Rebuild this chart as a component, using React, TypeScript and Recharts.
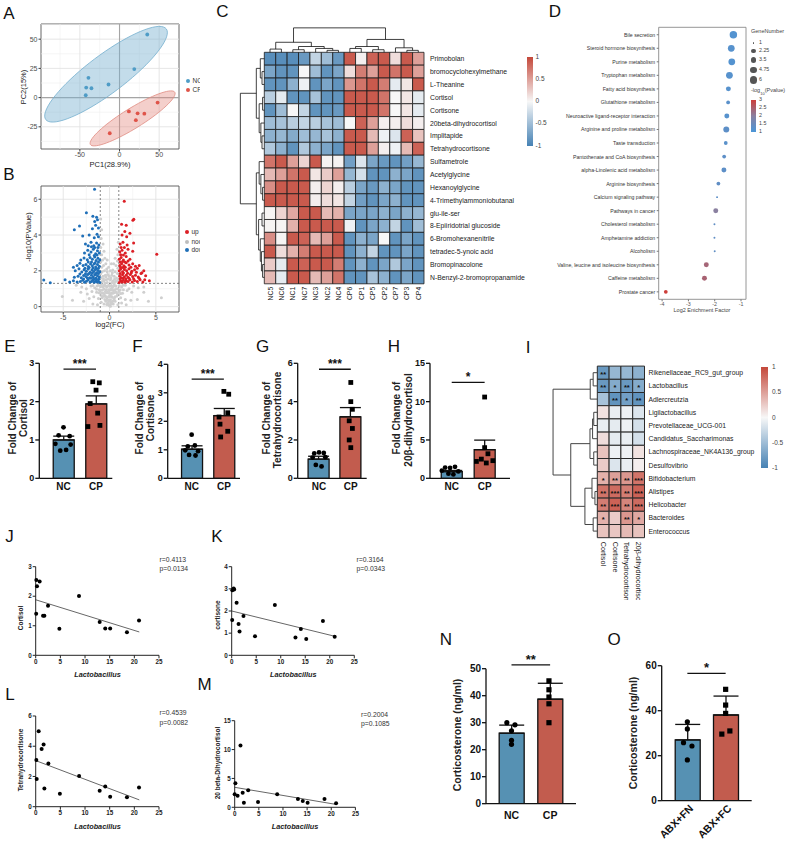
import React from "react";
import {
  ScatterChart,
  Scatter,
  ComposedChart,
  Bar,
  Cell,
  ErrorBar,
  XAxis,
  YAxis,
  ZAxis,
  ReferenceLine,
  ReferenceArea,
  ReferenceDot,
} from "recharts";

const FONT = "'Liberation Sans', Arial, Helvetica, sans-serif";
const BAR_BLUE = "#5691b3";
const BAR_RED = "#c25c4e";

// ---------- A: PCA ----------
const pcaNC = [[35, 54], [18.6, 24.4], [-39.2, 16.9], [-42, 8.6], [-35.4, 8], [-13.9, 11.2], [-42.6, 2]];
const pcaCP = [[48, -4.3], [11.8, -11.8], [22.8, -13.5], [31.3, -13.8], [20.6, -19.3], [-12.3, -30.5]];
// centre plus the two semi-axis vectors of each confidence ellipse (PC units)
const ellipseNC = { c: [-17, 20], a: [76, 38.8], b: [14.4, -13.1] };
const ellipseCP = { c: [16.5, -17.8], a: [53.2, 22.4], b: [6.7, -7.3] };

// ---------- B: volcano ----------
const volcanoDown = [
  [-1.05, 1.35], [-1.2, 1.42], [-1.35, 1.38], [-1.5, 1.45], [-1.65, 1.36], [-1.8, 1.48], [-1.95, 1.4], [-2.1, 1.37], [-2.3, 1.5], [-2.5, 1.42], [-2.7, 1.36], [-2.9, 1.47], [-3.15, 1.4], [-3.5, 1.38], [-3.9, 1.45], [-4.3, 1.37], [-4.8, 1.5], [-7.1, 1.49], [-6.4, 1.34],
  [-1.1, 1.65], [-1.3, 1.72], [-1.45, 1.6], [-1.6, 1.78], [-1.75, 1.66], [-1.95, 1.75], [-2.15, 1.62], [-2.35, 1.8], [-2.55, 1.68], [-2.8, 1.74], [-3.05, 1.62], [-3.4, 1.7], [-3.8, 1.64],
  [-1.05, 1.95], [-1.25, 2.02], [-1.4, 1.9], [-1.55, 2.08], [-1.7, 1.96], [-1.9, 2.05], [-2.1, 1.92], [-2.3, 2.1], [-2.5, 1.98], [-2.75, 2.06], [-3.0, 1.94], [-3.3, 2.12], [-3.7, 2.0],
  [-1.1, 2.25], [-1.3, 2.35], [-1.5, 2.22], [-1.65, 2.4], [-1.85, 2.28], [-2.05, 2.38], [-2.3, 2.24], [-2.55, 2.36], [-2.85, 2.3], [-3.2, 2.42], [-3.9, 2.2],
  [-1.05, 2.6], [-1.25, 2.7], [-1.45, 2.58], [-1.6, 2.78], [-1.85, 2.65], [-2.1, 2.75], [-2.4, 2.62], [-2.75, 2.72], [-3.1, 2.6],
  [-1.1, 3.0], [-1.3, 3.12], [-1.5, 2.95], [-1.75, 3.2], [-2.0, 3.05], [-2.35, 3.15], [-2.7, 3.0],
  [-1.15, 3.45], [-1.4, 3.55], [-1.7, 3.4], [-2.0, 3.6], [-2.6, 3.5],
  [-1.2, 3.9], [-1.35, 4.05], [-1.65, 3.85], [-2.2, 4.0], [-2.9, 3.95],
  [-1.2, 4.4], [-1.5, 4.55], [-1.85, 4.35], [-3.24, 4.5], [-3.8, 4.3],
  [-1.3, 4.85], [-1.6, 4.75], [-1.8, 5.05], [-1.4, 5.0], [-2.5, 5.24], [-1.62, 6.56],
  [-1.15, 1.55], [-1.4, 1.52], [-1.7, 1.56], [-2.0, 1.58], [-2.4, 1.6], [-2.8, 1.55],
  [-1.2, 1.85], [-1.5, 1.82], [-1.85, 1.88], [-2.2, 1.85], [-2.6, 1.84], [-3.2, 1.82],
  [-1.2, 2.15], [-1.45, 2.12], [-1.8, 2.16], [-2.2, 2.18], [-2.65, 2.15], [-3.5, 2.3],
  [-1.2, 2.5], [-1.55, 2.45], [-1.95, 2.5], [-2.3, 2.5], [-1.35, 2.88], [-1.65, 2.85], [-2.2, 2.9], [-1.25, 3.3], [-1.6, 3.3], [-1.95, 3.35], [-2.3, 3.4],
];
const volcanoUp = [
  [1.05, 1.35], [1.2, 1.45], [1.35, 1.38], [1.5, 1.48], [1.65, 1.36], [1.8, 1.44], [2.0, 1.4], [2.2, 1.5], [2.45, 1.37], [2.7, 1.46], [3.0, 1.4], [3.3, 1.5], [3.6, 1.38], [3.9, 1.73], [4.3, 1.45],
  [1.1, 1.7], [1.25, 1.62], [1.4, 1.78], [1.6, 1.66], [1.8, 1.75], [2.0, 1.64], [2.25, 1.8], [2.5, 1.68], [2.8, 1.76], [3.1, 1.65], [3.4, 1.85],
  [1.05, 2.0], [1.2, 2.1], [1.4, 1.95], [1.6, 2.08], [1.85, 2.0], [2.1, 2.12], [2.4, 1.98], [2.7, 2.06], [3.0, 2.15], [3.7, 2.0],
  [1.1, 2.3], [1.3, 2.4], [1.55, 2.28], [1.8, 2.45], [2.1, 2.32], [2.5, 2.4], [3.2, 2.3],
  [1.05, 2.65], [1.25, 2.75], [1.5, 2.6], [1.8, 2.8], [2.2, 2.65], [5.1, 2.92],
  [1.1, 3.05], [1.35, 3.15], [1.7, 3.0], [2.0, 3.2], [2.5, 3.1],
  [1.15, 3.5], [1.45, 3.6], [1.9, 3.45], [2.6, 3.55],
  [1.35, 4.0], [1.85, 3.9], [1.65, 4.2], [2.2, 4.1],
  [1.3, 4.6], [1.8, 4.55], [2.52, 4.83], [2.62, 4.88], [1.59, 5.89],
  [1.15, 1.55], [1.45, 1.58], [1.75, 1.55], [2.1, 1.58], [2.6, 1.56], [3.2, 1.58], [3.8, 1.5],
  [1.15, 1.85], [1.5, 1.88], [1.95, 1.86], [2.35, 1.9], [2.9, 1.92], [3.5, 1.9],
  [1.2, 2.2], [1.45, 2.18], [1.7, 2.2], [2.3, 2.2], [2.8, 2.25], [1.15, 2.5], [1.4, 2.52], [1.65, 2.5], [2.0, 2.55],
  [1.2, 2.9], [1.5, 2.88], [1.25, 3.3], [1.6, 3.3],
];
const volcanoNodiff = [
  [-0.95, 4.9], [-0.85, 4.3], [-0.9, 3.8], [-0.7, 3.5], [-0.95, 3.3], [-0.6, 3.1], [-0.85, 2.9], [-0.5, 2.7], [-0.75, 2.6], [-0.95, 2.5], [-0.4, 2.4], [-0.65, 2.3], [-0.85, 2.2], [-0.3, 2.1], [-0.55, 2.0], [-0.8, 1.95], [-0.95, 1.85], [-0.2, 1.8], [-0.45, 1.75], [-0.7, 1.7], [-0.9, 1.6], [-0.15, 1.55], [-0.35, 1.5], [-0.6, 1.45], [-0.8, 1.4],
  [0.95, 3.6], [0.8, 3.2], [0.9, 2.9], [0.6, 2.7], [0.85, 2.55], [0.45, 2.4], [0.7, 2.3], [0.9, 2.15], [0.35, 2.05], [0.6, 1.95], [0.85, 1.85], [0.25, 1.75], [0.5, 1.7], [0.75, 1.6], [0.95, 1.5], [0.1, 1.5], [0.4, 1.45], [0.65, 1.4],
  [-0.25, 2.6], [0.2, 2.4], [-0.1, 2.2], [0.1, 2.0], [-0.25, 1.95], [0.3, 1.9], [-0.05, 1.7], [0.15, 1.6], [-0.4, 1.65], [0.55, 1.55], [-0.65, 1.55], [0.8, 1.45], [-0.25, 1.35], [0.25, 1.35], [-0.5, 1.32], [0.5, 1.3],
  [-0.1, 1.2], [0.1, 1.15], [-0.3, 1.1], [0.3, 1.05], [-0.5, 1.2], [0.5, 1.2], [-0.7, 1.1], [0.7, 1.15], [-0.9, 1.25], [0.9, 1.0], [-1.2, 1.2], [1.3, 1.1], [-1.6, 1.05], [1.7, 1.2], [-2.0, 1.15], [2.1, 1.0], [-2.5, 1.0], [2.6, 1.15], [-3.0, 1.1], [3.1, 1.05], [-3.6, 1.2], [3.7, 1.1],
  [0, 0.9], [-0.2, 0.8], [0.2, 0.75], [-0.45, 0.85], [0.45, 0.9], [-0.7, 0.75], [0.7, 0.8], [-1.0, 0.9], [1.0, 0.85], [-1.4, 0.8], [1.4, 0.75], [-1.9, 0.85], [1.9, 0.9], [-2.4, 0.7], [2.4, 0.8], [-3.1, 0.8], [3.7, 0.8], [-5.1, 0.56], [5.6, 0.5],
  [0, 0.6], [-0.25, 0.5], [0.25, 0.55], [-0.5, 0.6], [0.5, 0.45], [-0.8, 0.5], [0.8, 0.6], [-1.2, 0.45], [1.2, 0.5], [-1.7, 0.55], [1.7, 0.4], [-2.2, 0.45], [2.3, 0.35], [-2.8, 0.3], [3.0, 0.4], [-4.0, 0.35], [4.2, 0.3],
  [0, 0.3], [-0.2, 0.2], [0.2, 0.25], [-0.4, 0.3], [0.4, 0.15], [-0.6, 0.15], [0.6, 0.3], [-0.9, 0.25], [0.9, 0.1], [-1.3, 0.1], [1.3, 0.2], [-1.8, 0.15], [1.8, 0.1], [0, 0.05], [-0.1, 0.1], [0.1, 0.02],
  [-0.15, 0.15], [0.15, 0.15], [-0.3, 0.12], [0.3, 0.18], [-0.1, 0.35], [0.1, 0.38], [-0.3, 0.35], [0.35, 0.32], [-0.5, 0.4], [0.5, 0.36],
  [-0.1, 0.55], [0.12, 0.58], [-0.35, 0.55], [0.3, 0.52], [-0.6, 0.58], [0.6, 0.55], [-0.85, 0.6],
  [-0.05, 0.75], [0.1, 0.72], [-0.3, 0.78], [0.35, 0.75], [-0.55, 0.72], [0.5, 0.78], [-0.9, 0.75], [0.85, 0.72], [-1.15, 0.78], [1.2, 0.74],
  [-0.1, 0.95], [0.15, 0.98], [-0.35, 0.95], [0.3, 0.92], [-0.6, 0.98], [0.55, 0.95], [-0.8, 0.92], [0.75, 0.98], [-1.1, 0.95], [1.15, 0.93], [-1.4, 0.97], [1.5, 0.95],
  [-0.05, 1.15], [0.2, 1.18], [-0.4, 1.15], [0.35, 1.12], [-0.65, 1.18], [0.6, 1.15], [-0.95, 1.12], [1.05, 1.18], [-1.35, 1.15], [1.45, 1.2], [-1.8, 1.18],
];

// ---------- C: metabolite heatmap ----------
const metaRows = ["Primobolan", "bromocyclohexylmethane", "L-Theanine", "Cortisol", "Cortisone", "20beta-dihydrocortisol", "Implitapide", "Tetrahydrocortisone", "Sulfametrole", "Acetylglycine", "Hexanoylglycine", "4-Trimethylammoniobutanal", "glu-ile-ser", "8-Epiiridotrial glucoside", "6-Bromohexanenitrile", "tetradec-5-ynoic acid", "Bromopinacolone", "N-Benzyl-2-bromopropanamide"];
const samples = ["NC5", "NC6", "NC1", "NC7", "NC3", "NC2", "NC4", "CP6", "CP1", "CP5", "CP2", "CP7", "CP3", "CP4"];
const metaZ = [
  [-0.9, -0.9, -0.9, -0.8, -0.3, -0.5, -0.8, 0.9, 0.05, 0.85, 0.9, 0.15, 0.9, 0.5],
  [-0.7, -0.85, -0.85, 0.0, -0.5, -0.85, -0.7, 0.15, 0.7, 0.5, 0.9, 0.75, 0.9, 0.5],
  [-0.85, -0.85, -0.6, -0.05, -0.85, -0.7, -0.85, 0.55, 0.75, 0.9, 0.7, -0.1, 0.1, 0.9],
  [-0.35, -0.1, -0.85, -0.85, -0.45, -0.85, -0.85, 0.9, 0.9, 0.9, 0.75, 0.0, 0.1, -0.1],
  [-0.85, -0.5, 0.0, -0.3, -0.85, -0.85, -0.8, 0.9, 0.9, 0.9, 0.75, 0.0, 0.1, -0.1],
  [-0.5, -0.45, -0.35, -0.3, -0.35, -0.45, -0.5, 0.0, 0.85, 0.5, 0.05, 0.05, 0.15, 0.05],
  [-0.6, -0.55, -0.65, -0.5, -0.55, -0.45, -0.6, 0.9, 0.9, 0.35, -0.05, -0.15, 0.85, 0.3],
  [-0.4, -0.6, -0.85, -0.4, -0.6, -0.7, -0.85, 0.9, 0.9, 0.5, 0.05, -0.05, 0.35, 0.85],
  [0.75, 0.9, 0.5, 0.2, 0.9, 0.03, 0.03, -0.75, -0.15, -0.7, -0.8, -0.85, -0.75, -0.55],
  [0.35, 0.5, 0.75, 0.9, 0.1, 0.25, 0.5, -0.55, -0.2, -0.85, -0.85, -0.6, -0.7, -0.85],
  [0.6, 0.9, 0.9, 0.9, 0.05, 0.2, 0.05, -0.35, -0.7, -0.8, -0.6, -0.7, -0.85, -0.85],
  [0.9, 0.9, 0.9, 0.9, 0.05, 0.15, 0.1, -0.3, -0.75, -0.85, -0.7, -0.6, -0.85, -0.85],
  [0.02, 0.2, 0.45, 0.9, 0.9, 0.35, 0.4, -0.7, -0.7, -0.7, -0.6, -0.7, -0.6, -0.55],
  [0.02, 0.02, 0.4, 0.9, 0.9, 0.9, 0.9, -0.05, -0.85, -0.7, -0.6, -0.3, -0.85, -0.5],
  [0.6, 0.02, 0.9, 0.85, 0.35, 0.5, 0.9, -0.85, -0.6, -0.7, 0.0, -0.85, -0.7, -0.85],
  [0.9, 0.15, 0.4, 0.7, 0.9, 0.9, 0.9, -0.85, -0.6, -0.3, -0.85, -0.85, -0.7, -0.85],
  [0.25, -0.1, 0.9, 0.85, 0.9, 0.9, 0.7, -0.85, -0.6, -0.85, -0.7, -0.4, -0.7, -0.85],
  [0.35, -0.1, 0.9, 0.9, 0.35, 0.5, 0.75, -0.85, -0.85, -0.45, -0.6, -0.85, -0.7, -0.85],
];
// dendrogram merges: [child, child, height]; "cN"/"rN" are leaves, "mN" earlier merges
const sampleTree = [
  ["c0", "c1", 0.25], ["c2", "c3", 0.2], ["c5", "c6", 0.15], ["c4", "m2", 0.3], ["m1", "m3", 0.45], ["m0", "m4", 0.78],
  ["c7", "c8", 0.3], ["c9", "c10", 0.2], ["m6", "m7", 0.45], ["c12", "c13", 0.15], ["c11", "m9", 0.35], ["m8", "m10", 1.0],
  ["m5", "m11", 1.9],
];
const metaTree = [
  ["r1", "r2", 0.2], ["r0", "m0", 0.35], ["r3", "r4", 0.15], ["r6", "r7", 0.2], ["r5", "m3", 0.3], ["m2", "m4", 0.45], ["m1", "m5", 0.7],
  ["r10", "r11", 0.15], ["r9", "m7", 0.3], ["r8", "m8", 0.45], ["r12", "r13", 0.2], ["r16", "r17", 0.15], ["r15", "m11", 0.25],
  ["r14", "m12", 0.35], ["m10", "m13", 0.5], ["m9", "m14", 0.7], ["m6", "m15", 2.1],
];

// ---------- D: KEGG enrichment ----------
const pathways = ["Bile secretion", "Steroid hormone biosynthesis", "Purine metabolism", "Tryptophan metabolism", "Fatty acid biosynthesis", "Glutathione metabolism", "Neuroactive ligand-receptor interaction", "Arginine and proline metabolism", "Taste transduction", "Pantothenate and CoA biosynthesis", "alpha-Linolenic acid metabolism", "Arginine biosynthesis", "Calcium signaling pathway", "Pathways in cancer", "Cholesterol metabolism", "Amphetamine addiction", "Alcoholism", "Valine, leucine and isoleucine biosynthesis", "Caffeine metabolism", "Prostate cancer"];
const enrichFactor = [-1.29, -1.37, -1.35, -1.44, -1.48, -1.49, -1.54, -1.56, -1.58, -1.64, -1.65, -1.86, -1.91, -1.96, -2.01, -2.01, -2.0, -2.32, -2.39, -3.86];
const geneNumber = [6, 5, 5, 5, 3, 2, 3, 4, 2, 2, 3, 2, 1, 3, 1, 1, 1, 3, 3, 2];
const negLogP = [1.15, 1.2, 1.15, 1.2, 1.2, 1.25, 1.2, 1.3, 1.25, 1.3, 1.3, 1.35, 1.3, 2.0, 1.35, 1.35, 1.35, 2.4, 2.45, 3.05];
const geneLegend = [1, 2.25, 3.5, 4.75, 6];

// ---------- E-H: fold changes ----------
const groups = ["NC", "CP"];
const cortisolMean = [1.0, 1.94], cortisolSem = [0.1, 0.21];
const cortisolNC = [[1.0, 1.33], [0.85, 1.12], [1.19, 1.1], [0.75, 0.9], [1.22, 0.88], [0.9, 0.72], [1.08, 0.74]];
const cortisolCP = [[1.9, 2.52], [2.1, 2.49], [2.0, 2.3], [1.82, 1.95], [2.05, 1.7], [1.75, 1.35], [2.12, 1.38]];
const cortisoneMean = [1.02, 2.2], cortisoneSem = [0.12, 0.25];
const cortisoneNC = [[1.0, 1.53], [0.88, 1.12], [1.1, 1.15], [0.8, 0.98], [1.2, 0.95], [0.92, 0.82], [1.12, 0.8]];
const cortisoneCP = [[2.0, 3.05], [2.15, 2.95], [2.12, 2.3], [1.85, 2.15], [1.88, 1.9], [2.12, 1.65], [1.9, 1.45]];
const thcMean = [1.0, 3.21], thcSem = [0.15, 0.48];
const thcNC = [[0.85, 1.3], [1.0, 1.35], [1.15, 1.32], [0.8, 1.08], [1.2, 1.1], [0.9, 0.7], [1.08, 0.62]];
const thcCP = [[2.0, 5.0], [2.0, 4.0], [2.05, 3.6], [1.95, 3.0], [2.05, 2.6], [1.95, 2.0], [2.0, 1.6]];
const dhcMean = [0.87, 3.73], dhcSem = [0.15, 1.25];
const dhcNC = [[0.8, 1.4], [0.95, 1.35], [1.1, 1.5], [0.7, 1.0], [1.2, 0.9], [0.9, 0.6], [1.05, 0.5]];
const dhcCP = [[2.0, 10.6], [2.0, 4.0], [2.1, 3.2], [1.75, 2.2], [1.9, 2.5], [2.05, 2.0], [2.25, 2.3]];

// ---------- I: genus x hormone correlation ----------
const genera = ["Rikenellaceae_RC9_gut_group", "Lactobacillus", "Adlercreutzia", "Ligilactobacillus", "Prevotellaceae_UCG-001", "Candidatus_Saccharimonas", "Lachnospiraceae_NK4A136_group", "Desulfovibrio", "Bifidobacterium", "Alistipes", "Helicobacter", "Bacteroides", "Enterococcus"];
const hormones = ["Cortisol", "Cortisone", "Tetrahydrocortisone", "20β-dihydrocortisol"];
const corrR = [
  [-0.8, -0.55, -0.55, -0.6], [-0.8, -0.65, -0.8, -0.65], [-0.45, -0.85, -0.75, -0.85], [0.12, -0.08, -0.05, -0.15],
  [-0.08, -0.1, -0.05, -0.2], [0.15, -0.1, -0.08, -0.2], [0.3, -0.05, -0.05, 0.12], [0.25, -0.15, -0.08, 0.05],
  [0.4, 0.5, 0.55, 0.75], [0.75, 0.8, 0.7, 0.85], [0.7, 0.85, 0.65, 0.8], [0.4, 0.25, 0.55, 0.45], [0.3, 0.28, 0.35, 0.3],
];
const corrStars = [
  ["**", "", "", ""], ["**", "*", "**", "*"], ["", "**", "*", "**"], ["", "", "", ""], ["", "", "", ""], ["", "", "", ""], ["", "", "", ""], ["", "", "", ""],
  ["*", "**", "**", "***"], ["**", "***", "**", "***"], ["**", "***", "**", "***"], ["*", "", "**", "*"], ["", "", "", ""],
];
const generaTree = [
  ["r0", "r1", 0.35], ["m0", "r2", 0.6], ["r3", "r4", 0.3], ["r5", "m2", 0.4], ["r6", "r7", 0.3], ["m3", "m4", 0.62],
  ["r9", "r10", 0.2], ["r8", "m6", 0.45], ["r11", "r12", 0.35], ["m7", "m8", 1.05], ["m5", "m9", 2.25], ["m1", "m10", 3.75],
];

// ---------- J-M: Lactobacillus correlations ----------
const corCortisol = [[0.13, 2.55], [0.26, 2.34], [0.8, 2.5], [0.1, 1.41], [1.49, 1.34], [1.76, 1.34], [2.5, 1.68], [4.8, 0.9], [8.78, 2.01], [12.97, 1.13], [14.1, 0.91], [15.1, 0.91], [18.5, 0.78], [20.95, 1.18]];
const corCortisone = [[0.13, 2.94], [0.4, 3.02], [0.5, 2.97], [0.1, 1.59], [1.0, 2.37], [1.4, 1.41], [1.6, 1.08], [2.4, 1.77], [4.75, 0.86], [8.8, 2.27], [13.0, 0.8], [14.1, 1.19], [15.2, 0.74], [18.6, 1.55], [21.0, 0.84]];
const corTHC = [[0.13, 3.09], [0.2, 1.83], [0.6, 4.99], [1.2, 3.82], [1.6, 4.12], [1.76, 1.21], [2.57, 2.85], [4.9, 0.85], [8.8, 2.03], [12.97, 1.06], [14.1, 1.33], [15.1, 0.66], [18.5, 0.62], [20.95, 1.27]];
const corDHC = [[0.14, 4.15], [0.0, 2.25], [0.6, 2.0], [1.2, 10.7], [1.65, 2.53], [1.9, 0.8], [2.8, 2.95], [4.83, 0.9], [8.8, 2.27], [13.1, 1.42], [14.1, 1.1], [15.1, 0.8], [18.6, 1.42], [21.0, 0.7]];
// regression line end points [x0, y0, x1, y1]
const fitCortisol = [0, 1.88, 21, 0.79];
const fitCortisone = [0, 2.0, 21, 0.86];
const fitTHC = [0, 3.05, 21, 0.45];
const fitDHC = [0, 3.46, 21, 0.5];

// ---------- N-O: corticosterone ----------
const cortiNMean = [26.1, 38.7], cortiNSd = [3.0, 5.9];
const cortiNC = [[0.88, 30], [1.09, 29.2], [1.0, 27], [1.0, 23.5], [1.0, 22]];
const cortiCP = [[1.97, 45.5], [1.97, 42.2], [1.97, 39.5], [1.97, 37], [1.97, 30]];
const abxGroups = ["ABX+FN", "ABX+FC"];
const cortiOMean = [27, 38.1], cortiOSd = [6.9, 8.4];
const cortiFN = [[1.0, 35.1], [1.0, 31.9], [0.9, 25.8], [1.12, 24.3], [1.0, 18.1]];
const cortiFC = [[2.0, 49.5], [2.0, 42.5], [2.0, 38.8], [1.9, 29.6], [2.11, 31]];

// ---------- helpers ----------
const mix = (a: number[], b: number[], t: number) =>
  `rgb(${a.map((v, i) => Math.round(v + (b[i] - v) * t)).join(",")})`;
const HM_LOW = [70, 130, 180], HM_MID = [247, 247, 247], HM_HIGH = [196, 72, 58];
const heatColor = (v: number) => (v < 0 ? mix(HM_MID, HM_LOW, Math.min(1, -v)) : mix(HM_MID, HM_HIGH, Math.min(1, v)));
const P_LOW = [74, 150, 216], P_MID = [138, 128, 160], P_HIGH = [205, 62, 58];
const pColor = (p: number) => {
  const t = (p - 1) / 2;
  return t < 0.5 ? mix(P_LOW, P_MID, Math.max(0, t * 2)) : mix(P_MID, P_HIGH, Math.min(1, (t - 0.5) * 2));
};
const toXY = (arr: number[][]) => arr.map(([x, y]) => ({ x, y }));
const blank = () => <g />;

function ellipsePoints(e: { c: number[]; a: number[]; b: number[] }) {
  const pts = [];
  for (let i = 0; i <= 72; i++) {
    const t = (i / 72) * Math.PI * 2;
    pts.push({
      x: e.c[0] + Math.cos(t) * e.a[0] + Math.sin(t) * e.b[0],
      y: e.c[1] + Math.cos(t) * e.a[1] + Math.sin(t) * e.b[1],
    });
  }
  return pts;
}

// turns a merge list into [pos0, h0, pos1, h1] segments
function treeSegments(tree: any[]) {
  const pos: Record<string, number> = {};
  const ht: Record<string, number> = {};
  const get = (k: string) => (k[0] === "m" ? [pos[k], ht[k]] : [Number(k.slice(1)) + 0.5, 0]);
  const segs: number[][] = [];
  tree.forEach(([a, b, h], i) => {
    const [pa, ha] = get(a);
    const [pb, hb] = get(b);
    pos["m" + i] = (pa + pb) / 2;
    ht["m" + i] = h;
    segs.push([pa, ha, pa, h], [pb, hb, pb, h], [pa, h, pb, h]);
  });
  return segs;
}

// plain svg tick text (no wrapping), optionally rotated
const makeTick = (label: (v: number) => string, angle: number, anchor: string, size: number, weight = 400, dx = 0, dy = 0, color = "#111") =>
  (p: any) => {
    const x = p.x + dx, y = p.y + dy;
    return (
      <text x={x} y={y} transform={angle ? `rotate(${angle} ${x} ${y})` : undefined} textAnchor={anchor} dominantBaseline="central"
        fontSize={size} fontWeight={weight} fill={color} fontFamily={FONT}>
        {label(p.payload.value)}
      </text>
    );
  };

function Lbl({ x, y, text, size = 7, color = "#222", bold = false, italic = false, rot = 0, align = "middle" }: any) {
  const tx = align === "start" ? "0" : align === "end" ? "-100%" : "-50%";
  return (
    <div style={{
      position: "absolute", left: x, top: y, transform: `translate(${tx},-50%) rotate(${rot}deg)`,
      fontSize: size, color, fontWeight: bold ? 700 : 400, fontStyle: italic ? "italic" : "normal",
      whiteSpace: "nowrap", lineHeight: 1, fontFamily: FONT,
    }}>{text}</div>
  );
}

function GradientBar({ x, y, w, h, colors, labels, lx, size = 6.5 }: any) {
  return (
    <>
      <div style={{ position: "absolute", left: x, top: y, width: w, height: h, background: `linear-gradient(to bottom, ${colors.join(",")})` }} />
      {labels.map((t: string, i: number) => (
        <Lbl key={t} x={lx} y={y + (h * i) / (labels.length - 1)} text={t} size={size} color="#444" align="start" />
      ))}
    </>
  );
}

const Place = ({ left, top, children }: any) => <div style={{ position: "absolute", left, top }}>{children}</div>;

const ggTick = { fontSize: 7, fill: "#4d4d4d" };

// ---------- panels ----------
function PanelA() {
  const gridMajorX = [-50, 0, 50], gridMinorX = [-75, -25, 25];
  const gridMajorY = [-25, 0, 25, 50], gridMinorY = [-37.5, -12.5, 12.5, 37.5, 62.5];
  return (
    <Place left={0} top={0}>
      <ScatterChart width={180} height={170} margin={{ top: 24, right: 1, bottom: 0, left: 0 }}>
        <XAxis type="number" dataKey="x" domain={[-99, 75]} ticks={[-50, 0, 50]} interval={0} allowDataOverflow height={21}
          axisLine={false} tickLine={{ stroke: "#444" }} tickSize={2.5} tickMargin={1} tick={ggTick} />
        <YAxis type="number" dataKey="y" domain={[-44, 63]} ticks={[-25, 0, 25, 50]} interval={0} allowDataOverflow width={41}
          axisLine={false} tickLine={{ stroke: "#444" }} tickSize={2.5} tickMargin={1} tick={ggTick} />
        {gridMinorX.map((v) => <ReferenceLine key={"nx" + v} x={v} stroke="#f0f0f0" strokeWidth={0.6} />)}
        {gridMinorY.map((v) => <ReferenceLine key={"ny" + v} y={v} stroke="#f0f0f0" strokeWidth={0.6} />)}
        {gridMajorX.map((v) => <ReferenceLine key={"jx" + v} x={v} stroke="#e3e3e3" strokeWidth={0.9} />)}
        {gridMajorY.map((v) => <ReferenceLine key={"jy" + v} y={v} stroke="#e3e3e3" strokeWidth={0.9} />)}
        <ReferenceLine x={0} stroke="#a5a5a5" strokeWidth={1.1} />
        <ReferenceLine y={0} stroke="#a5a5a5" strokeWidth={1.1} />
        <Scatter data={ellipsePoints(ellipseNC)} shape={blank} isAnimationActive={false}
          line={{ stroke: "#74aece", strokeWidth: 0.8, fill: "#79b2d0", fillOpacity: 0.45 }} />
        <Scatter data={ellipsePoints(ellipseCP)} shape={blank} isAnimationActive={false}
          line={{ stroke: "#e08c82", strokeWidth: 0.8, fill: "#e3877c", fillOpacity: 0.4 }} />
        <Scatter data={toXY(pcaNC)} isAnimationActive={false} shape={(p: any) => <circle cx={p.cx} cy={p.cy} r={1.9} fill="#4f9cc6" />} />
        <Scatter data={toXY(pcaCP)} isAnimationActive={false} shape={(p: any) => <circle cx={p.cx} cy={p.cy} r={1.9} fill="#df5449" />} />
        <ReferenceArea x1={-99} x2={75} y1={-44} y2={63} fill="none" stroke="#555" strokeWidth={0.9} ifOverflow="visible" />
      </ScatterChart>
    </Place>
  );
}

function PanelB() {
  return (
    <Place left={0} top={170}>
      <ScatterChart width={180} height={160} margin={{ top: 16, right: 1, bottom: 0, left: 0 }}>
        <XAxis type="number" dataKey="x" domain={[-7.4, 7.5]} ticks={[-5, 0, 5]} interval={0} allowDataOverflow height={18}
          axisLine={false} tickLine={{ stroke: "#444" }} tickSize={2.5} tickMargin={1} tick={ggTick} />
        <YAxis type="number" dataKey="y" domain={[-0.3, 6.74]} ticks={[0, 2, 4, 6]} interval={0} allowDataOverflow width={41}
          axisLine={false} tickLine={{ stroke: "#444" }} tickSize={2.5} tickMargin={1} tick={ggTick} />
        {[-2.5, 2.5].map((v) => <ReferenceLine key={"nx" + v} x={v} stroke="#f0f0f0" strokeWidth={0.6} />)}
        {[1, 3, 5].map((v) => <ReferenceLine key={"ny" + v} y={v} stroke="#f0f0f0" strokeWidth={0.6} />)}
        {[-5, 0, 5].map((v) => <ReferenceLine key={"jx" + v} x={v} stroke="#e3e3e3" strokeWidth={0.9} />)}
        {[0, 2, 4, 6].map((v) => <ReferenceLine key={"jy" + v} y={v} stroke="#e3e3e3" strokeWidth={0.9} />)}
        <Scatter data={toXY(volcanoNodiff)} isAnimationActive={false} shape={(p: any) => <circle cx={p.cx} cy={p.cy} r={1.5} fill="#cfcfcf" />} />
        <Scatter data={toXY(volcanoDown)} isAnimationActive={false} shape={(p: any) => <circle cx={p.cx} cy={p.cy} r={1.5} fill="#1f6fb8" />} />
        <Scatter data={toXY(volcanoUp)} isAnimationActive={false} shape={(p: any) => <circle cx={p.cx} cy={p.cy} r={1.5} fill="#dc1f26" />} />
        <ReferenceLine x={-1} stroke="#666" strokeDasharray="2 2" strokeWidth={0.8} />
        <ReferenceLine x={1} stroke="#666" strokeDasharray="2 2" strokeWidth={0.8} />
        <ReferenceLine y={1.3} stroke="#666" strokeDasharray="2 2" strokeWidth={0.8} />
        <ReferenceArea x1={-7.4} x2={7.5} y1={-0.3} y2={6.74} fill="none" stroke="#555" strokeWidth={0.9} ifOverflow="visible" />
      </ScatterChart>
    </Place>
  );
}

function PanelC() {
  const topSegs = treeSegments(sampleTree);
  const leftSegs = treeSegments(metaTree);
  const centers = metaZ.flatMap((row, r) => row.map((v, c) => ({ x: c + 0.5, y: r + 0.5, v })));
  return (
    <Place left={200} top={0}>
      <ScatterChart width={332} height={310} margin={{ top: 52.3, right: 12, bottom: 0, left: 64.3 }}>
        <XAxis type="number" dataKey="x" domain={[0, 14]} ticks={samples.map((_, i) => i + 0.5)} interval={0} height={26.2}
          axisLine={false} tickLine={false} tickSize={0} tickMargin={3}
          tick={makeTick((v) => samples[Math.round(v - 0.5)], -90, "end", 6.8, 400, 0, 0, "#222")} />
        <YAxis type="number" dataKey="y" domain={[0, 18]} reversed orientation="right" ticks={metaRows.map((_, i) => i + 0.5)} interval={0}
          width={96} axisLine={false} tickLine={false} tickSize={0} tickMargin={6}
          tick={makeTick((v) => metaRows[Math.round(v - 0.5)], 0, "start", 6.8, 400, 0, 0, "#222")} />
        {metaZ.map((row, r) => row.map((v, c) => (
          <ReferenceArea key={`c${r}-${c}`} x1={c} x2={c + 1} y1={r} y2={r + 1} fill={heatColor(v)} fillOpacity={1}
            stroke="#1a1a1a" strokeWidth={0.8} />
        )))}
        {topSegs.map((s, i) => (
          <ReferenceLine key={"t" + i} segment={[{ x: s[0], y: -s[1] }, { x: s[2], y: -s[3] }]} stroke="#111" strokeWidth={0.8} ifOverflow="visible" />
        ))}
        {leftSegs.map((s, i) => (
          <ReferenceLine key={"l" + i} segment={[{ x: -s[1], y: s[0] }, { x: -s[3], y: s[2] }]} stroke="#111" strokeWidth={0.8} ifOverflow="visible" />
        ))}
        <Scatter data={centers} shape={blank} isAnimationActive={false} />
      </ScatterChart>
    </Place>
  );
}

function PanelD() {
  const data = pathways.map((name, i) => ({ x: enrichFactor[i], y: i + 1, n: geneNumber[i], p: negLogP[i] }));
  return (
    <Place left={540} top={0}>
      <ScatterChart width={210} height={320} margin={{ top: 27.3, right: 4, bottom: 0, left: 0 }}>
        <XAxis type="number" dataKey="x" domain={[-4.13, -0.81]} ticks={[-4, -3, -2, -1]} interval={0} allowDataOverflow height={20.7}
          axisLine={false} tickLine={{ stroke: "#777" }} tickSize={2} tickMargin={1} tick={{ fontSize: 5.3, fill: "#555" }} />
        <YAxis type="number" dataKey="y" domain={[0.45, 20.55]} reversed ticks={pathways.map((_, i) => i + 1)} interval={0} allowDataOverflow
          width={118.7} axisLine={false} tickLine={{ stroke: "#777" }} tickSize={2} tickMargin={1.5}
          tick={makeTick((v) => pathways[v - 1], 0, "end", 5.2, 400, 0, 0, "#333")} />
        <ZAxis type="number" dataKey="n" domain={[1, 6]} range={[3, 44]} />
        <ReferenceArea x1={-4.13} x2={-0.81} y1={0.45} y2={20.55} fill="none" stroke="#8a8a8a" strokeWidth={0.9} ifOverflow="visible" />
        <Scatter data={data} isAnimationActive={false}>
          {data.map((d, i) => <Cell key={i} fill={pColor(d.p)} />)}
        </Scatter>
      </ScatterChart>
    </Place>
  );
}

function PanelI() {
  const segs = treeSegments(generaTree);
  const starCells = corrStars.flatMap((row, r) => row.map((s, c) => ({ x: c + 0.5, y: r + 0.5, s })));
  return (
    <Place left={540} top={355}>
      <ScatterChart width={225} height={245} margin={{ top: 11.1, right: 10, bottom: 0, left: 57.3 }}>
        <XAxis type="number" dataKey="x" domain={[0, 4]} ticks={[0.5, 1.5, 2.5, 3.5]} interval={0} height={62.3}
          axisLine={false} tickLine={false} tickSize={0} tickMargin={4}
          tick={makeTick((v) => hormones[Math.round(v - 0.5)], 90, "start", 7.2, 400, 0, 0, "#222")} />
        <YAxis type="number" dataKey="y" domain={[0, 13]} reversed orientation="right" ticks={genera.map((_, i) => i + 0.5)} interval={0}
          width={110.5} axisLine={false} tickLine={false} tickSize={0} tickMargin={4}
          tick={makeTick((v) => genera[Math.round(v - 0.5)], 0, "start", 6.8, 400, 0, 0, "#222")} />
        {corrR.map((row, r) => row.map((v, c) => (
          <ReferenceArea key={`i${r}-${c}`} x1={c} x2={c + 1} y1={r} y2={r + 1} fill={heatColor(v)} fillOpacity={1}
            stroke="#2a2a2a" strokeWidth={1} />
        )))}
        {segs.map((s, i) => (
          <ReferenceLine key={"g" + i} segment={[{ x: -s[1], y: s[0] }, { x: -s[3], y: s[2] }]} stroke="#444" strokeWidth={1} ifOverflow="visible" />
        ))}
        <Scatter data={starCells} isAnimationActive={false}
          shape={(p: any) => (
            <text x={p.cx} y={p.cy + 4.2} textAnchor="middle" fontSize={7.5} fontWeight={700} fill="#111" fontFamily={FONT}>{p.payload.s}</text>
          )} />
      </ScatterChart>
    </Place>
  );
}

function BarPanel(s: any) {
  // the category axis carries the bars; a hidden numeric axis over the same range places dots and brackets
  const W = s.width - s.yW - s.mRight;
  const unit0 = W / (s.xDom[1] - s.xDom[0]);
  const pl = (0.5 - s.xDom[0]) * unit0;
  const pr = Math.max(0, (s.xDom[1] - 2.5) * unit0);
  const unit = (W - pl - pr) / 2;
  const c1 = pl + unit / 2;
  const numDom = [1 - c1 / unit, 1 + (W - c1) / unit];
  const data = s.groups.map((g: string, i: number) => ({ name: g, mean: s.means[i], err: [0, s.errs[i]] }));
  const axisStyle = { stroke: "#111", strokeWidth: 1.3 };
  const tick = s.rotate
    ? makeTick((v: any) => v, -45, "end", s.labelSize, 700, 4, 2)
    : { fontSize: s.labelSize, fontWeight: 700, fill: "#111" };
  return (
    <Place left={s.left} top={s.top}>
      <ComposedChart width={s.width} height={s.height} data={data} margin={{ top: s.mTop, right: s.mRight, bottom: 0, left: 0 }}>
        <XAxis xAxisId="cat" type="category" dataKey="name" padding={{ left: pl, right: pr }} interval={0} height={s.xH}
          axisLine={axisStyle} tickLine={false} tickSize={0} tickMargin={s.xMargin} tick={tick} />
        <XAxis xAxisId="num" type="number" dataKey="x" domain={numDom} allowDataOverflow hide />
        <YAxis type="number" domain={[0, s.yMax]} ticks={s.yTicks} interval={0} allowDataOverflow width={s.yW}
          axisLine={axisStyle} tickLine={axisStyle} tickSize={4} tickMargin={1}
          tick={{ fontSize: s.tickSize, fontWeight: 700, fill: "#111" }} />
        <Bar xAxisId="cat" dataKey="mean" barSize={s.barSize} stroke="#111" strokeWidth={1.3} isAnimationActive={false}>
          {data.map((_: any, i: number) => <Cell key={i} fill={i === 0 ? BAR_BLUE : BAR_RED} />)}
          <ErrorBar dataKey="err" width={s.barSize * 0.5} stroke="#111" strokeWidth={1.3} />
        </Bar>
        <Scatter xAxisId="num" data={toXY(s.ptsA)} dataKey="y" isAnimationActive={false}
          shape={(p: any) => <circle cx={p.cx} cy={p.cy} r={s.dot} fill="#000" />} />
        <Scatter xAxisId="num" data={toXY(s.ptsB)} dataKey="y" isAnimationActive={false}
          shape={(p: any) => <rect x={p.cx - s.dot} y={p.cy - s.dot} width={s.dot * 2} height={s.dot * 2} fill="#000" />} />
        <ReferenceLine xAxisId="num" segment={[{ x: 1, y: s.sigY }, { x: 2, y: s.sigY }]} stroke="#111" strokeWidth={1.3} ifOverflow="visible" />
        <ReferenceDot xAxisId="num" x={1.5} y={s.sigY} r={0} ifOverflow="visible"
          label={{ value: s.sig, position: "top", offset: 1, fontSize: s.starSize, fontWeight: 700, fill: "#111" }} />
      </ComposedChart>
    </Place>
  );
}

function CorrPanel(s: any) {
  const ax = { stroke: "#222", strokeWidth: 1 };
  return (
    <Place left={s.left} top={s.top}>
      <ScatterChart width={s.width} height={s.height} margin={{ top: s.mTop, right: 6, bottom: 0, left: 0 }}>
        <XAxis type="number" dataKey="x" domain={[0, 25]} ticks={[0, 5, 10, 15, 20, 25]} interval={0} height={14}
          axisLine={ax} tickLine={ax} tickSize={3} tickMargin={1} tick={{ fontSize: 6.3, fontWeight: 700, fill: "#222" }} />
        <YAxis type="number" dataKey="y" domain={[0, s.yMax]} ticks={s.yTicks} interval={0} allowDataOverflow width={35.7}
          axisLine={ax} tickLine={ax} tickSize={3} tickMargin={1} tick={{ fontSize: 6.3, fontWeight: 700, fill: "#222" }} />
        <ReferenceLine segment={[{ x: s.fit[0], y: s.fit[1] }, { x: s.fit[2], y: s.fit[3] }]} stroke="#666" strokeWidth={1} />
        <Scatter data={toXY(s.pts)} isAnimationActive={false} shape={(p: any) => <circle cx={p.cx} cy={p.cy} r={2} fill="#000" />} />
      </ScatterChart>
    </Place>
  );
}

const hmColors = ["rgb(196,72,58)", "rgb(247,247,247)", "rgb(70,130,180)"];
const hmLabels = ["1", "0.5", "0", "-0.5", "-1"];

export default function App() {
  const barCommon = { groups, barSize: 21, tickSize: 9, labelSize: 10, starSize: 12, dot: 2.4, xMargin: 5, mRight: 7.7, xH: 21.7, height: 150, top: 350 };
  const nbCommon = { barSize: 25, tickSize: 10, labelSize: 10.5, starSize: 13, dot: 2.6, mRight: 6 };
  return (
    <div style={{ position: "absolute", left: 0, top: 0, width: 786, height: 849, background: "#fff", overflow: "hidden", fontFamily: FONT }}>
      <PanelA />
      <PanelB />
      <PanelC />
      <PanelD />
      <PanelI />

      <BarPanel {...barCommon} left={0} width={120} mTop={13.3} yW={39.3} xDom={[0.26, 2.47]} yMax={3} yTicks={[0, 1, 2, 3]}
        means={cortisolMean} errs={cortisolSem} ptsA={cortisolNC} ptsB={cortisolCP} sigY={2.85} sig="***" />
      <BarPanel {...barCommon} left={128} width={119.7} mTop={14.3} yW={39.7} xDom={[0.257, 2.495]} yMax={4} yTicks={[0, 1, 2, 3, 4]}
        means={cortisoneMean} errs={cortisoneSem} ptsA={cortisoneNC} ptsB={cortisoneCP} sigY={3.48} sig="***" />
      <BarPanel {...barCommon} left={258} width={116.4} mTop={13.3} yW={39.7} xDom={[0.33, 2.5]} yMax={6} yTicks={[0, 2, 4, 6]}
        means={thcMean} errs={thcSem} ptsA={thcNC} ptsB={thcCP} sigY={5.69} sig="***" />
      <BarPanel {...barCommon} left={390} width={127.7} mTop={13.3} yW={40} xDom={[0.34, 2.77]} yMax={15} yTicks={[0, 5, 10, 15]}
        means={dhcMean} errs={dhcSem} ptsA={dhcNC} ptsB={dhcCP} sigY={12.52} sig="*" />

      <BarPanel {...nbCommon} groups={groups} left={440} top={640} width={142} height={188.7} mTop={28.7} yW={46} xH={25} xMargin={8}
        xDom={[0.34, 2.67]} yMax={50} yTicks={[0, 10, 20, 30, 40, 50]}
        means={cortiNMean} errs={cortiNSd} ptsA={cortiNC} ptsB={cortiCP} sigY={51.4} sig="**" />
      <BarPanel {...nbCommon} groups={abxGroups} rotate left={615} top={645} width={142.7} height={204} mTop={20.7} yW={46.7} xH={48.3} xMargin={4}
        xDom={[0.33, 2.68]} yMax={60} yTicks={[0, 20, 40, 60]}
        means={cortiOMean} errs={cortiOSd} ptsA={cortiFN} ptsB={cortiFC} sigY={56.6} sig="*" />

      <CorrPanel left={0} top={550} width={165} height={119.3} mTop={16.7} yMax={3} yTicks={[0, 1, 2, 3]} pts={corCortisol} fit={fitCortisol} />
      <CorrPanel left={196} top={550} width={164.3} height={119.3} mTop={16.7} yMax={4} yTicks={[0, 1, 2, 3, 4]} pts={corCortisone} fit={fitCortisone} />
      <CorrPanel left={0} top={700} width={165} height={120.7} mTop={16} yMax={6} yTicks={[0, 2, 4, 6]} pts={corTHC} fit={fitTHC} />
      <CorrPanel left={198.6} top={700} width={162.4} height={121.3} mTop={20.7} yMax={15} yTicks={[0, 5, 10, 15]} pts={corDHC} fit={fitDHC} />

      {/* axis titles and legends */}
      <Lbl x={24} y={86.5} text="PC2(15%)" size={7.5} rot={-90} />
      <Lbl x={110} y={164.5} text="PC1(28.9%)" size={7.5} />
      <Lbl x={28.5} y={236.5} text="-log10(PValue)" size={7.5} rot={-90} />
      <Lbl x={110} y={324.8} text="log2(FC)" size={7.5} />
      <div style={{ position: "absolute", left: 180, top: 60, width: 20, height: 220, overflow: "hidden" }}>
        {[["NC", "#4f9cc6", 21], ["CP", "#df5449", 30]].map(([t, c, y]: any) => (
          <React.Fragment key={t}>
            <div style={{ position: "absolute", left: 6, top: y - 2, width: 4, height: 4, borderRadius: 2, background: c }} />
            <Lbl x={12.5} y={y} text={t} size={6.5} color="#333" align="start" />
          </React.Fragment>
        ))}
        {[["up", "#dc1f26", 172.3], ["nodiff", "#bdbdbd", 181.5], ["down", "#1f6fb8", 190]].map(([t, c, y]: any) => (
          <React.Fragment key={t}>
            <div style={{ position: "absolute", left: 5, top: y - 2, width: 4, height: 4, borderRadius: 2, background: c }} />
            <Lbl x={11.5} y={y} text={t} size={6.5} color="#333" align="start" />
          </React.Fragment>
        ))}
      </div>

      <GradientBar x={527} y={56.7} w={5.5} h={89} colors={hmColors} labels={hmLabels} lx={535.5} />
      <GradientBar x={761} y={366.7} w={6.7} h={101.6} colors={hmColors} labels={hmLabels} lx={772} />

      <Lbl x={702} y={311} text="Log2 Enichment Factor" size={5.5} color="#444" />
      <Lbl x={751} y={32} text="GeneNumber" size={5.5} color="#444" align="start" />
      {geneLegend.map((g, i) => {
        const r = Math.sqrt((3 + ((g - 1) / 5) * 41) / Math.PI);
        const y = [42.7, 51, 60.2, 70, 80][i];
        return (
          <React.Fragment key={g}>
            <div style={{ position: "absolute", left: 753.5 - r, top: y - r, width: 2 * r, height: 2 * r, borderRadius: r, background: "#555" }} />
            <Lbl x={759} y={y} text={String(g)} size={5.3} color="#444" align="start" />
          </React.Fragment>
        );
      })}
      <Lbl x={751} y={92.3} size={5.5} color="#444" align="start" text={<span>-log<sub style={{ fontSize: 4 }}>10</sub>(Pvalue)</span>} />
      <GradientBar x={751} y={99.5} w={5} h={32.5} colors={["rgb(205,62,58)", "rgb(138,128,160)", "rgb(74,150,216)"]}
        labels={["3", "2.5", "2", "1.5", "1"]} lx={759} size={5.3} />

      <Lbl x={12.5} y={418} text="Fold Change of" size={10} bold rot={-90} />
      <Lbl x={23.5} y={418} text="Cortisol" size={10} bold rot={-90} />
      <Lbl x={139.5} y={418} text="Fold Change of" size={10} bold rot={-90} />
      <Lbl x={150.5} y={418} text="Cortisone" size={10} bold rot={-90} />
      <Lbl x={266.5} y={418} text="Fold Change of" size={10} bold rot={-90} />
      <Lbl x={277.5} y={420} text="Tetrahydrocortisone" size={10} bold rot={-90} />
      <Lbl x={397} y={418} text="Fold Change of" size={10} bold rot={-90} />
      <Lbl x={408.5} y={420} text="20β-dihydrocortisol" size={10} bold rot={-90} />
      <Lbl x={456.7} y={735} text="Corticosterone (ng/ml)" size={10.5} bold rot={-90} />
      <Lbl x={633} y={732.5} text="Corticosterone (ng/ml)" size={10.5} bold rot={-90} />

      <Lbl x={21} y={617.5} text="Cortisol" size={6.5} bold rot={-90} />
      <Lbl x={218.3} y={615} text="cortisone" size={6.5} bold rot={-90} />
      <Lbl x={21} y={760} text="Tetrahydrocortisone" size={6.5} bold rot={-90} />
      <Lbl x={218.3} y={763} text="20 beta-Dihydrocortisol" size={6.5} bold rot={-90} />
      <Lbl x={97.5} y={674.5} text="Lactobacillus" size={7.3} bold italic />
      <Lbl x={293.3} y={674.5} text="Lactobacillus" size={7.3} bold italic />
      <Lbl x={97.5} y={826.5} text="Lactobacillus" size={7.3} bold italic />
      <Lbl x={295} y={826.5} text="Lactobacillus" size={7.3} bold italic />
      {[
        [159.5, 560, "r=0.4113", "p=0.0134"],
        [356.5, 560, "r=0.3164", "p=0.0343"],
        [159.5, 713.3, "r=0.4539", "p=0.0082"],
        [361, 715, "r=0.2004", "p=0.1085"],
      ].map(([x, y, r, p]: any) => (
        <React.Fragment key={r}>
          <Lbl x={x} y={y} text={r} size={6.8} color="#333" align="start" />
          <Lbl x={x} y={y + 9.3} text={p} size={6.8} color="#333" align="start" />
        </React.Fragment>
      ))}

      {[
        ["A", 9, 12.5], ["B", 9, 173.5], ["C", 222.5, 11], ["D", 555, 11], ["E", 10, 345.5], ["F", 137.5, 345.5],
        ["G", 262.5, 345.5], ["H", 394, 345.5], ["I", 528, 347], ["J", 9.5, 535.5], ["K", 217, 535.5],
        ["L", 10, 694], ["M", 204.7, 684], ["N", 445.8, 639], ["O", 614, 639],
      ].map(([t, x, y]: any) => <Lbl key={t} x={x} y={y} text={t} size={17} color="#111" />)}
    </div>
  );
}
